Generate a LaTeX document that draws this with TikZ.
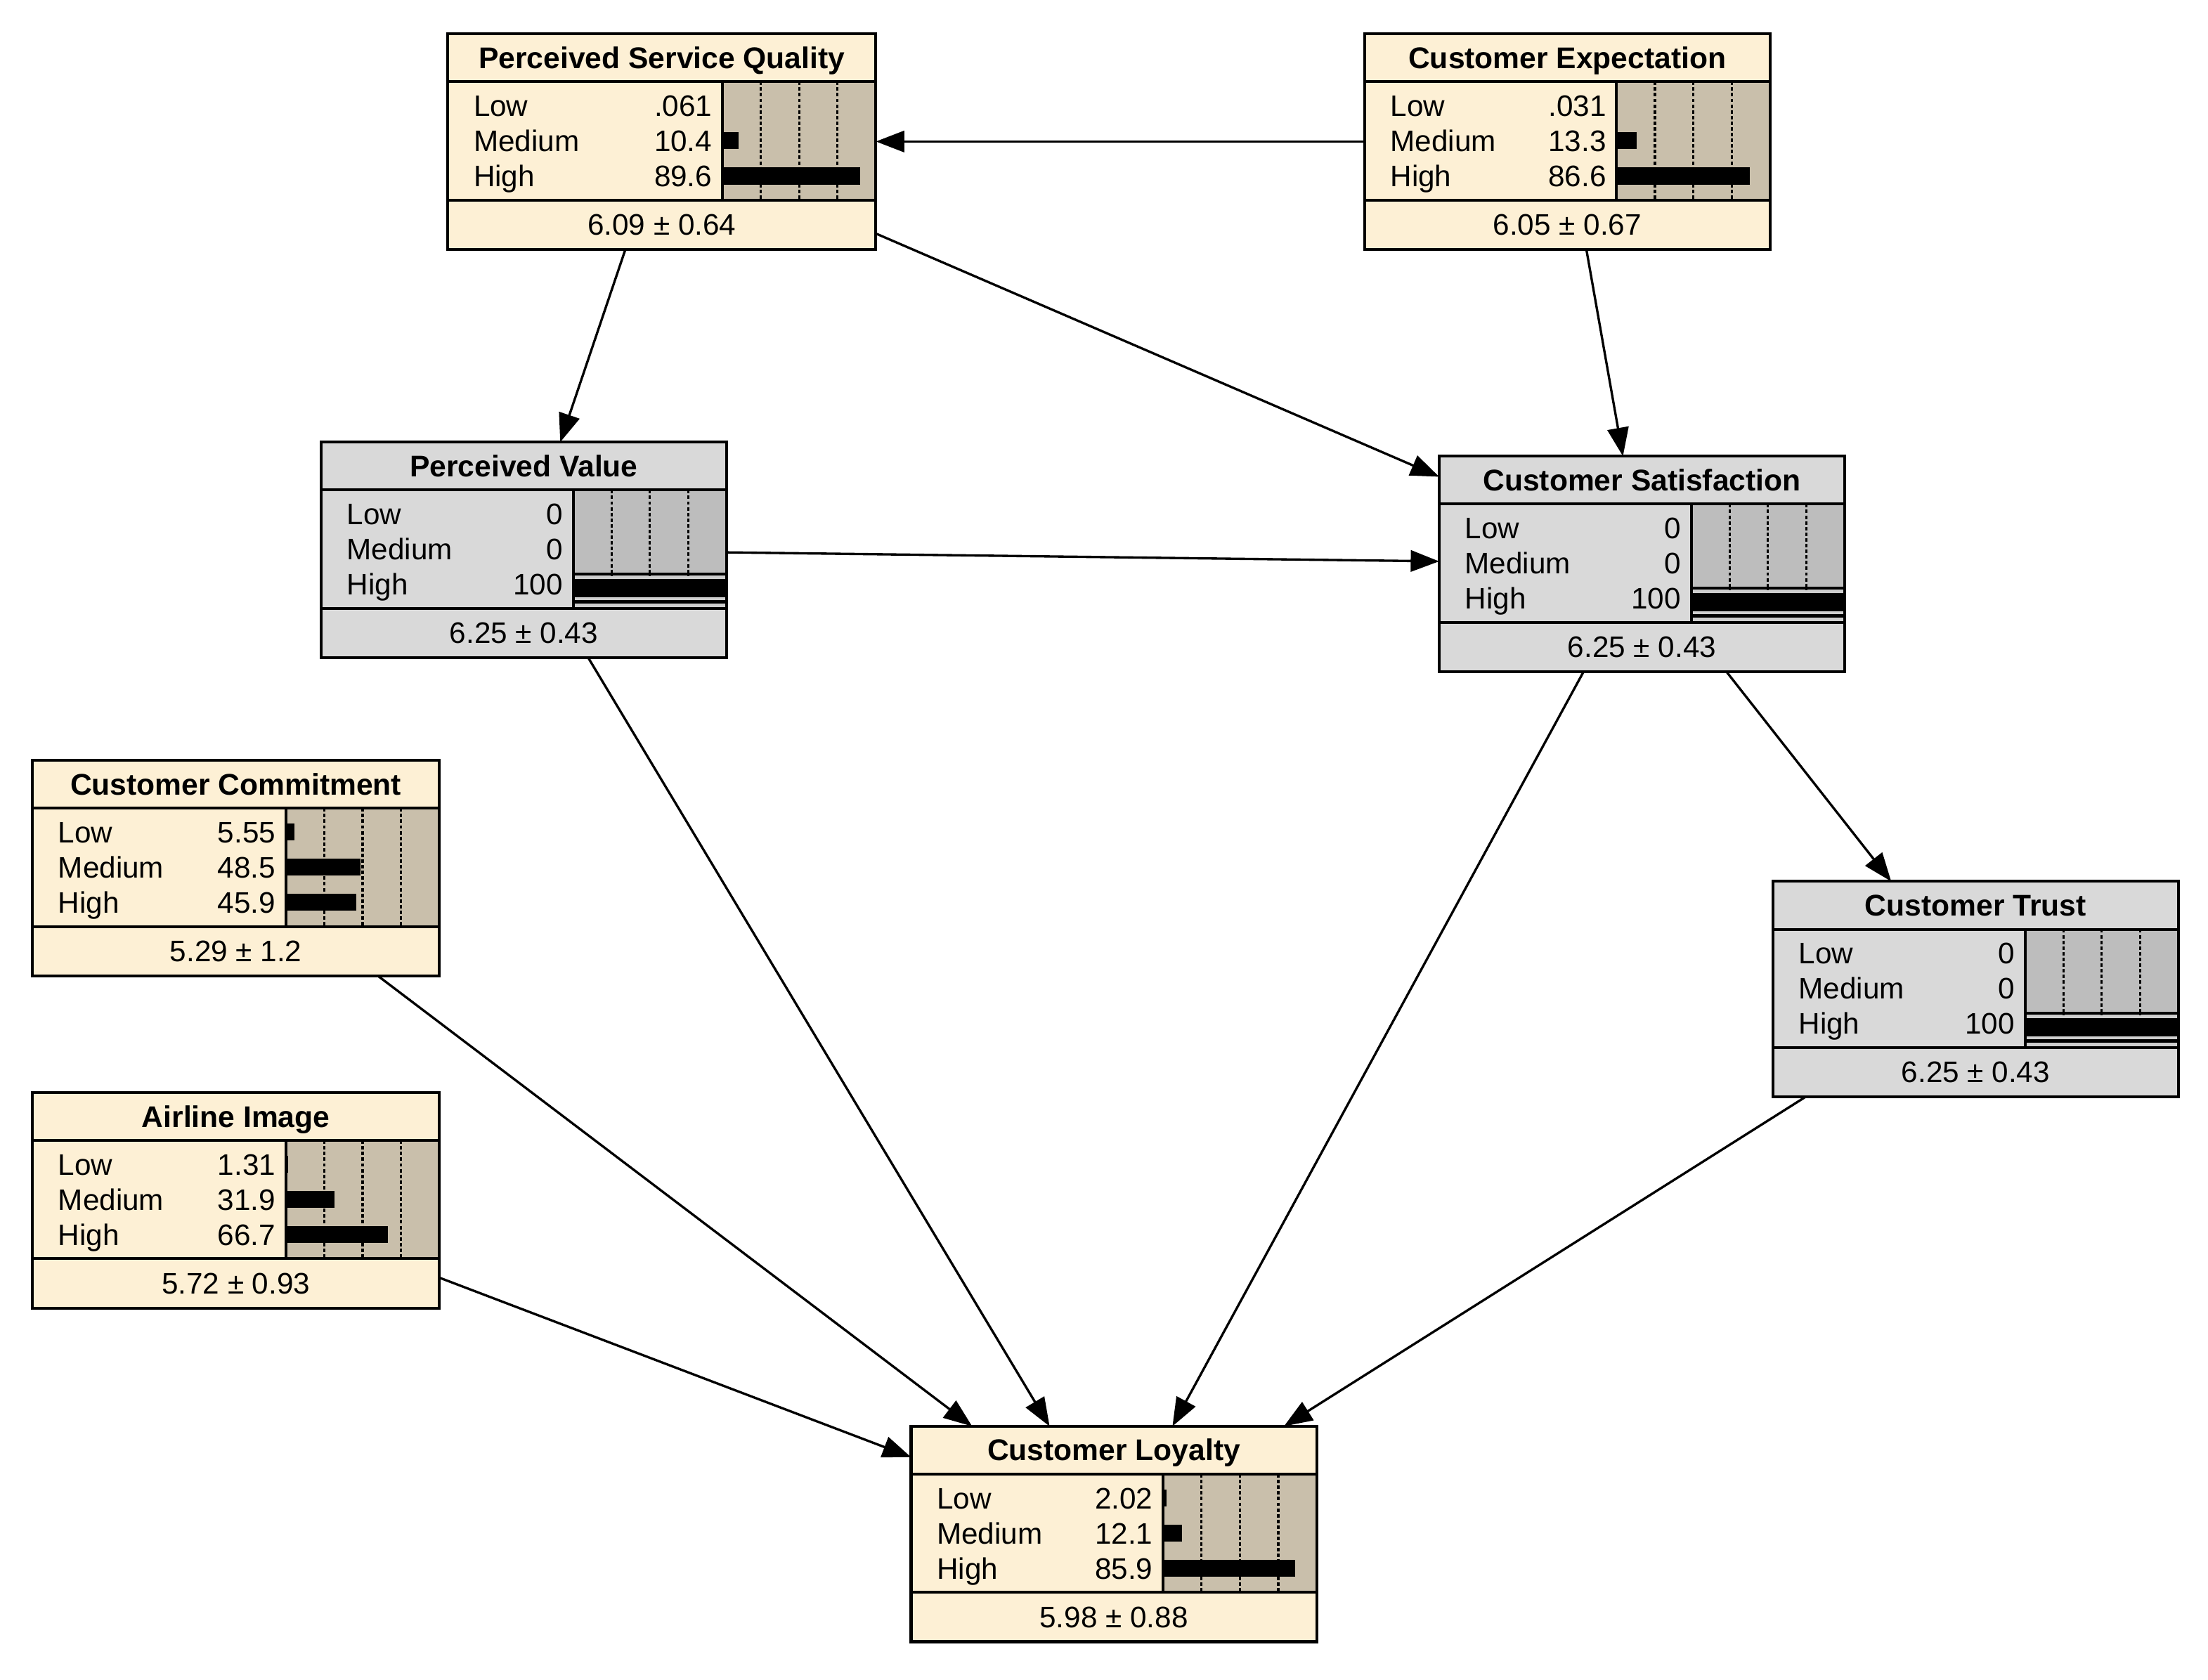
\documentclass[tikz,border=0pt]{standalone}
\usepackage{fontspec}
\setmainfont{Liberation Sans}
\usetikzlibrary{arrows.meta,calc}
\definecolor{cream}{RGB}{253,240,213}
\definecolor{tanbg}{RGB}{201,191,171}
\definecolor{nodegray}{RGB}{217,217,217}
\definecolor{histgray}{RGB}{189,189,189}
\definecolor{stripgray}{RGB}{206,206,206}
\tikzset{
  bbox/.style={draw, line width=1.15pt, inner sep=0pt, outer sep=0pt, anchor=north west,
    minimum width={#1*0.02cm}, minimum height={153*0.02cm}},
  sepline/.style={line width=1.15pt},
  histdot/.style={line width=0.9pt, dash pattern=on 1.4pt off 0.9pt},
  ttl/.style={inner sep=0pt, font=\fontsize{12.1pt}{14pt}\selectfont\bfseries},
  txt/.style={inner sep=0pt, font=\fontsize{12pt}{14pt}\selectfont},
  edge/.style={line width=0.95pt, -{Triangle[length=11.5pt, width=8.6pt]}},
}
% #1 name #2 x #3 y #4 width #5 fill #6 hist fill #7 title #8 footer
\newcommand\BNode[8]{%
  \node[bbox=#4, fill=#5] (#1) at (#2,#3) {};
  \pgfmathsetmacro\hx{#2+#4-109}
  \fill[#6] (\hx,#3+34) rectangle (#2+#4,#3+118);
  \foreach \f in {0.25,0.5,0.75}{\draw[histdot] (\hx+109*\f,#3+34) -- (\hx+109*\f,#3+118);}
  \node[ttl, anchor=base] at (#2+#4/2,#3+24.5) {#7};
  \node[txt, anchor=base] at (#2+#4/2,#3+143) {#8};
}
\newcommand\BFrame[4]{% #1 name #2 x #3 y #4 width
  \pgfmathsetmacro\hx{#2+#4-109}
  \draw[sepline] (#2,#3+34) -- (#2+#4,#3+34) (#2,#3+118) -- (#2+#4,#3+118) (\hx,#3+34) -- (\hx,#3+118);
  \draw[line width=1.15pt] (#1.north west) rectangle (#1.south east);
}
% #1 x #2 y #3 width #4 low #5 med #6 high #7 pL #8 pM #9 pH
\newcommand\BRows[9]{%
  \pgfmathsetmacro\hx{#1+#3-109}
  \node[txt, anchor=base west] at (#1+18,#2+58.5) {Low};
  \node[txt, anchor=base west] at (#1+18,#2+83.5) {Medium};
  \node[txt, anchor=base west] at (#1+18,#2+108.5) {High};
  \node[txt, anchor=base east] at (\hx-7,#2+58.5) {#4};
  \node[txt, anchor=base east] at (\hx-7,#2+83.5) {#5};
  \node[txt, anchor=base east] at (\hx-7,#2+108.5) {#6};
  \fill (\hx,#2+45) rectangle (\hx+1.09*#7,#2+57);
  \fill (\hx,#2+70) rectangle (\hx+1.09*#8,#2+82);
  \fill (\hx,#2+95) rectangle (\hx+1.09*#9,#2+107);
}
% evidence rows: #1 x #2 y #3 width
\newcommand\ERows[3]{%
  \pgfmathsetmacro\hx{#1+#3-109}
  \pgfmathsetmacro\hb{#2+118}
  \node[txt, anchor=base west] at (#1+18,#2+58.5) {Low};
  \node[txt, anchor=base west] at (#1+18,#2+83.5) {Medium};
  \node[txt, anchor=base west] at (#1+18,#2+108.5) {High};
  \node[txt, anchor=base east] at (\hx-7,#2+58.5) {0};
  \node[txt, anchor=base east] at (\hx-7,#2+83.5) {0};
  \node[txt, anchor=base east] at (\hx-7,#2+108.5) {100};
  \fill (\hx,\hb-25.5) rectangle (#1+#3,\hb-23.5);
  \fill[stripgray] (\hx,\hb-22.7) rectangle (#1+#3,\hb-20.7);
  \fill (\hx,\hb-20.7) rectangle (#1+#3,\hb-7.7);
  \fill[stripgray] (\hx,\hb-7.7) rectangle (#1+#3,\hb-5.7);
  \fill (\hx,\hb-5.7) rectangle (#1+#3,\hb-3.2);
  \fill[stripgray] (\hx,\hb-3.2) rectangle (#1+#3,\hb-0.5);
}
\begin{document}
\begin{tikzpicture}[x=0.02cm, y=-0.02cm]
\useasboundingbox (0,0) rectangle (1568,1193);
% Perceived Service Quality
\BNode{psq}{318}{24}{304}{cream}{tanbg}{Perceived Service Quality}{6.09 ± 0.64}
\BRows{318}{24}{304}{.061}{10.4}{89.6}{0.061}{10.4}{89.6}
\BFrame{psq}{318}{24}{304}
% Customer Expectation
\BNode{ce}{969}{24}{288}{cream}{tanbg}{Customer Expectation}{6.05 ± 0.67}
\BRows{969}{24}{288}{.031}{13.3}{86.6}{0.031}{13.3}{86.6}
\BFrame{ce}{969}{24}{288}
% Perceived Value
\BNode{pv}{228}{314}{288}{nodegray}{histgray}{Perceived Value}{6.25 ± 0.43}
\ERows{228}{314}{288}
\BFrame{pv}{228}{314}{288}
% Customer Satisfaction
\BNode{cs}{1022}{324}{288}{nodegray}{histgray}{Customer Satisfaction}{6.25 ± 0.43}
\ERows{1022}{324}{288}
\BFrame{cs}{1022}{324}{288}
% Customer Commitment
\BNode{cc}{23}{540}{289}{cream}{tanbg}{Customer Commitment}{5.29 ± 1.2}
\BRows{23}{540}{289}{5.55}{48.5}{45.9}{5.55}{48.5}{45.9}
\BFrame{cc}{23}{540}{289}
% Airline Image
\BNode{ai}{23}{776}{289}{cream}{tanbg}{Airline Image}{5.72 ± 0.93}
\BRows{23}{776}{289}{1.31}{31.9}{66.7}{1.31}{31.9}{66.7}
\BFrame{ai}{23}{776}{289}
% Customer Trust
\BNode{ct}{1259}{626}{288}{nodegray}{histgray}{Customer Trust}{6.25 ± 0.43}
\ERows{1259}{626}{288}
\BFrame{ct}{1259}{626}{288}
% Customer Loyalty
\BNode{cl}{647}{1013}{288}{cream}{tanbg}{Customer Loyalty}{5.98 ± 0.88}
\BRows{647}{1013}{288}{2.02}{12.1}{85.9}{2.02}{12.1}{85.9}
\BFrame{cl}{647}{1013}{288}
% edges
\draw[edge] (ce) -- (psq);
\draw[edge] (psq) -- (pv);
\draw[edge] (psq) -- (cs);
\draw[edge] (ce) -- (cs);
\draw[edge] (pv) -- (cs);
\draw[edge] (pv) -- (cl);
\draw[edge] (cs) -- (cl);
\draw[edge] (cs) -- (ct);
\draw[edge] (cc) -- (cl);
\draw[edge] (ai) -- (cl);
\draw[edge] (ct) -- (cl);
\end{tikzpicture}
\end{document}
